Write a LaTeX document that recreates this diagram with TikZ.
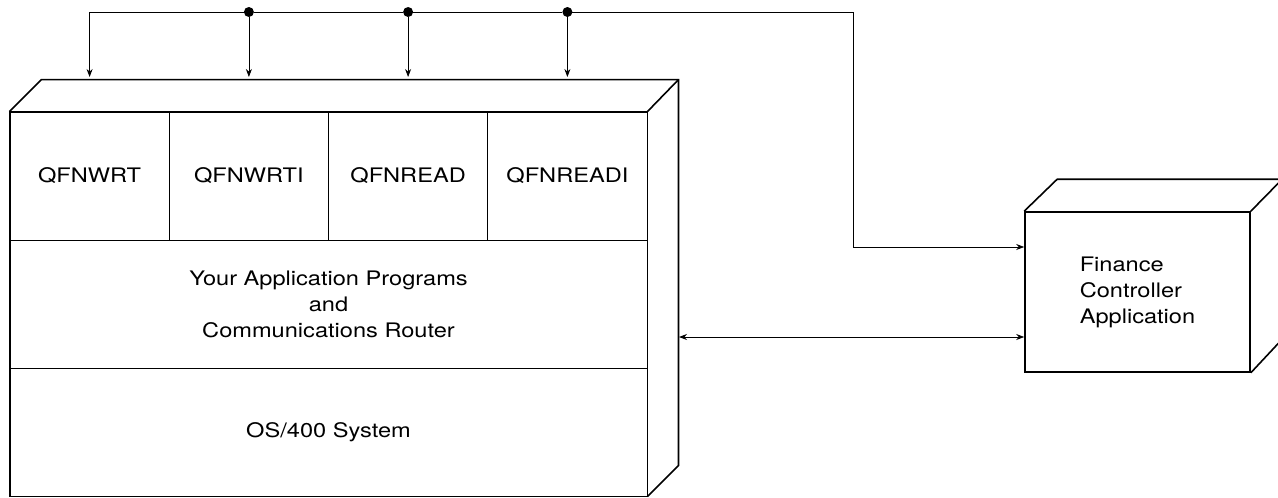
\documentclass[tikz,border=0pt]{standalone}
\usepackage{fontspec}
\setmainfont{TeX Gyre Heros}[FakeStretch=1.18]
\usetikzlibrary{arrows.meta}

\begin{document}
\begin{tikzpicture}[x=1pt, y=-1pt, >={Stealth[length=8pt,width=6pt]},
    cell/.style={draw, line width=0.9pt, minimum width=159.25pt, minimum height=128pt,
        inner sep=0pt, align=center, font=\fontsize{20}{26}\selectfont},
    edge/.style={line width=1.6pt, line join=miter},
    wire/.style={line width=0.8pt},
    tap/.style={circle, fill, inner sep=0pt, minimum size=10pt}]
    \useasboundingbox (0,0) rectangle (1278,498);

    % --- front face of the host: four APIs, programs, OS ---
    \node[cell] (wrt)   at (89.6,176)  {QFNWRT};
    \node[cell] (wrti)  at (248.9,176) {QFNWRTI};
    \node[cell] (read)  at (408.1,176) {QFNREAD};
    \node[cell] (readi) at (567.4,176) {QFNREADI};
    \node[cell, minimum width=637pt] (apps) at (328.5,304) {Your Application Programs\\and\\Communications Router};
    \node[cell, minimum width=637pt] (os)   at (328.5,432) {OS/400 System};

    % outline and depth of the host box
    \draw[edge] (wrt.north west) rectangle (os.south east);
    \draw[edge] (wrt.north west) -- ++(32,-32) -- ++(637,0) coordinate (hostback)
        -- ++(0,386) -- (os.south east);
    \draw[edge] (readi.north east) -- (hostback);

    % --- finance controller box ---
    \node[draw, line width=1.6pt, minimum width=225pt, minimum height=160pt, align=left,
        font=\fontsize{20}{26}\selectfont] (fin) at (1137.5,292) {Finance\\Controller\\Application};
    \draw[edge] (fin.north west) -- ++(33,-32) -- ++(225,0) coordinate (finback)
        -- ++(0,160) -- (fin.south east);
    \draw[edge] (fin.north east) -- (finback);

    % --- bus with taps ---
    \node[tap] (t1) at (wrti.north |- 0,12) {};
    \node[tap] (t2) at (read.north |- 0,12) {};
    \node[tap] (t3) at (readi.north |- 0,12) {};
    \coordinate (drop) at (853,247);
    \coordinate (link) at (679,337);

    \draw[wire, ->] (t1.center) -| (wrt.north |- 0,77);
    \draw[wire, ->] (t1) -- (wrti.north |- 0,77);
    \draw[wire, ->] (t2) -- (read.north |- 0,77);
    \draw[wire, ->] (t3) -- (readi.north |- 0,77);
    \draw[wire] (t1) -- (t2) (t2) -- (t3);
    \draw[wire, ->] (t3.center) -| (drop) -- (drop -| fin.west);
    \draw[wire, <->] (link) -- (link -| fin.west);
\end{tikzpicture}
\end{document}
